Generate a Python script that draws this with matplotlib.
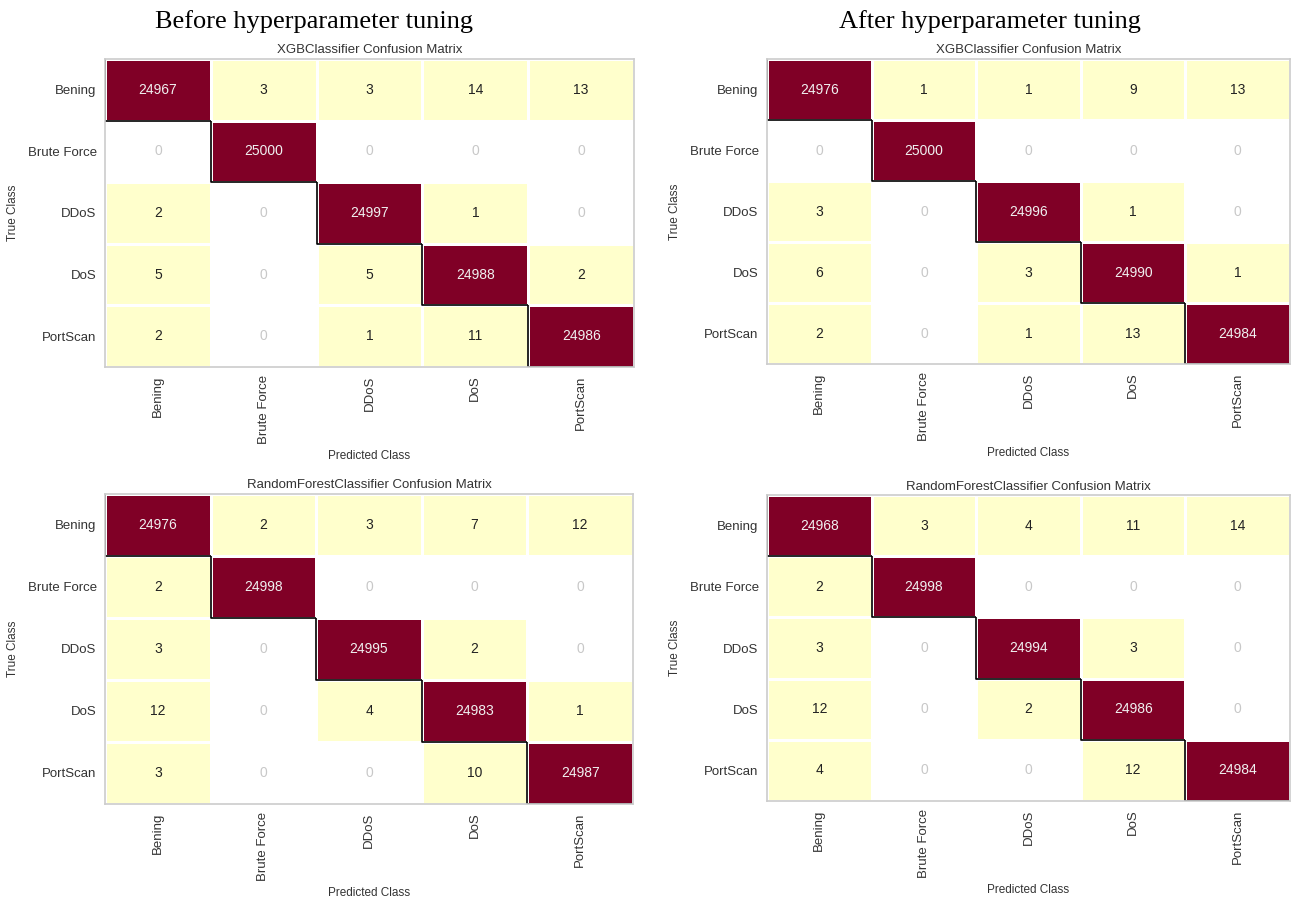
import numpy as np
import matplotlib.pyplot as plt

clases = ['Bening', 'Brute Force', 'DDoS', 'DoS', 'PortScan']

xgb_antes = [
    [24967, 3, 3, 14, 13],
    [0, 25000, 0, 0, 0],
    [2, 0, 24997, 1, 0],
    [5, 0, 5, 24988, 2],
    [2, 0, 1, 11, 24986],
]
xgb_despues = [
    [24976, 1, 1, 9, 13],
    [0, 25000, 0, 0, 0],
    [3, 0, 24996, 1, 0],
    [6, 0, 3, 24990, 1],
    [2, 0, 1, 13, 24984],
]
rf_antes = [
    [24976, 2, 3, 7, 12],
    [2, 24998, 0, 0, 0],
    [3, 0, 24995, 2, 0],
    [12, 0, 4, 24983, 1],
    [3, 0, 0, 10, 24987],
]
rf_despues = [
    [24968, 3, 4, 11, 14],
    [2, 24998, 0, 0, 0],
    [3, 0, 24994, 3, 0],
    [12, 0, 2, 24986, 0],
    [4, 0, 0, 12, 24984],
]

plt.rcParams['font.family'] = ['Liberation Sans', 'DejaVu Sans']

cmap = plt.get_cmap('YlOrRd').copy()
cmap.set_under('white')


def dibujar_matriz(ax, matriz, titulo):
    m = np.array(matriz, dtype=float)
    pct = m / m.sum(axis=1, keepdims=True) * 100
    pct[m == 0] = -1
    n = len(clases)
    ax.pcolormesh(np.arange(n + 1), np.arange(n + 1), pct, cmap=cmap, vmin=0.0001, vmax=100,
                  edgecolors='white', linewidth=1.0)
    for i in range(n):
        for j in range(n):
            v = int(m[i, j])
            if v == 0:
                color = '#c8c8c8'
            elif pct[i, j] > 50:
                color = '#f0f0f0'
            else:
                color = '#222222'
            ax.text(j + 0.5, i + 0.5, str(v), ha='center', va='center', fontsize=10, color=color)
        # borde en escalera de la diagonal (izquierda y abajo)
        ax.plot([i, i, i + 1], [i, i + 1, i + 1], color='black', linewidth=1.2, solid_capstyle='butt')
    ax.set_xlim(0, n)
    ax.set_ylim(n, 0)
    ax.set_xticks(np.arange(n) + 0.5)
    ax.set_yticks(np.arange(n) + 0.5)
    ax.set_xticklabels(clases, rotation=90, fontsize=9.5, color='#333333')
    ax.set_yticklabels(clases, fontsize=9.5, color='#333333')
    ax.tick_params(length=0, pad=6)
    for s in ax.spines.values():
        s.set_edgecolor('#cccccc')
        s.set_linewidth(1.2)
        s.set_zorder(5)
    ax.set_title(titulo, fontsize=9.5, color='#333333', pad=4)
    ax.set_xlabel('Predicted Class', fontsize=8.5, color='#333333', labelpad=4)
    ax.set_ylabel('True Class', fontsize=8.5, color='#333333', labelpad=6)


fig = plt.figure(figsize=(12.95, 8.97), dpi=100)

ax1 = fig.add_axes([0.0811, 0.5909, 0.4085, 0.3434])
ax2 = fig.add_axes([0.5923, 0.5942, 0.4039, 0.3400])
ax3 = fig.add_axes([0.0811, 0.1037, 0.4077, 0.3456])
ax4 = fig.add_axes([0.5923, 0.1070, 0.4039, 0.3410])

dibujar_matriz(ax1, xgb_antes, 'XGBClassifier Confusion Matrix')
dibujar_matriz(ax2, xgb_despues, 'XGBClassifier Confusion Matrix')
dibujar_matriz(ax3, rf_antes, 'RandomForestClassifier Confusion Matrix')
dibujar_matriz(ax4, rf_despues, 'RandomForestClassifier Confusion Matrix')

fig.text(0.2425, 0.976, 'Before hyperparameter tuning', ha='center', va='center',
         fontsize=19, family='Liberation Serif')
fig.text(0.7645, 0.976, 'After hyperparameter tuning', ha='center', va='center',
         fontsize=19, family='Liberation Serif')

fig.savefig('out.png', dpi=100)
